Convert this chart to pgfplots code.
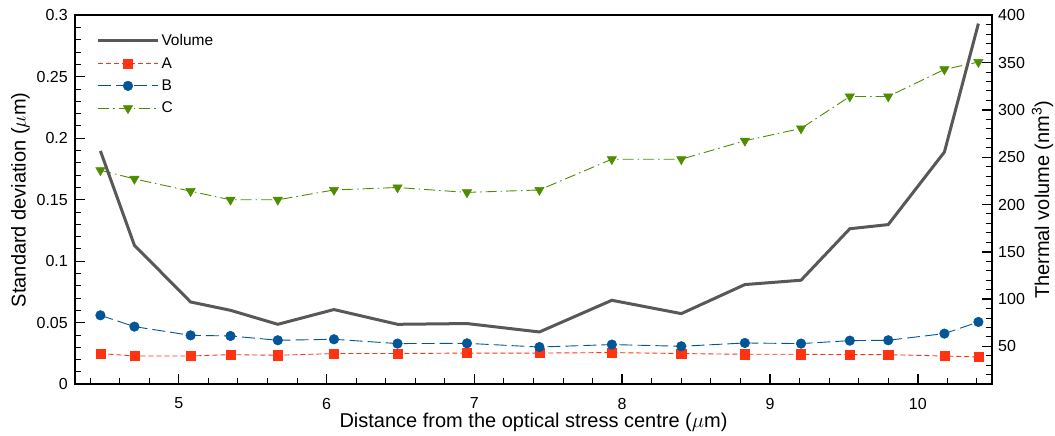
\documentclass[border=0pt]{standalone}
\usepackage{fontspec}
\setmainfont{Liberation Sans}
\usepackage{pgfplots}
\pgfplotsset{compat=1.18}
\definecolor{volgray}{RGB}{88,88,88}
\definecolor{cA}{RGB}{255,51,17}
\definecolor{cB}{RGB}{0,86,150}
\definecolor{cC}{RGB}{78,140,0}
\pgfplotsset{
  styleV/.style={volgray, line width=3pt, no markers},
  styleA/.style={cA, line width=0.9pt, dash pattern=on 5pt off 3pt, mark=square*, mark size=4.6pt, mark options={solid, fill=cA, draw=cA, line width=0.5pt}},
  styleB/.style={cB, line width=0.9pt, dash pattern=on 13pt off 5pt, mark=*, mark size=4.8pt, mark options={solid, fill=cB, draw=cB, line width=0.5pt}},
  styleC/.style={cC, line width=0.9pt, dash pattern=on 11pt off 4pt on 1.5pt off 4pt, mark=triangle*, mark size=5.4pt, mark options={solid, rotate=180, fill=cC, draw=cC, line width=0.5pt}},
  commonax/.style={
    at={(0,0)}, anchor=south west,
    scale only axis, width=916.4pt, height=369pt,
    xmin=4.3, xmax=10.5,
    tick align=inside,
    major tick length=10pt, minor tick length=6pt,
    every tick/.style={black, line width=1.4pt},
    every minor tick/.style={black, line width=1pt},
    axis line style={line width=2pt},
    tick label style={font=\fontsize{16}{19}\selectfont},
    label style={font=\fontsize{20}{24}\selectfont},
    /pgf/number format/assume math mode=true,
  },
}
\begin{document}
\begin{tikzpicture}
\path[use as bounding box] (-75.3pt,-51.7pt) rectangle (979.7pt,384.3pt);
\begin{axis}[
  commonax,
  ymin=0, ymax=0.3,
  xtick={5,6,7,8,9,10},
  minor xtick={4.4,4.6,4.8,5.2,5.4,5.6,5.8,6.2,6.4,6.6,6.8,7.2,7.4,7.6,7.8,8.2,8.4,8.6,8.8,9.2,9.4,9.6,9.8,10.2,10.4},
  xtick pos=bottom,
  ytick={0,0.05,0.1,0.15,0.2,0.25,0.3},
  yticklabels={0,0.05,0.1,0.15,0.2,0.25,0.3},
  minor ytick={0.01,0.02,0.03,0.04,0.06,0.07,0.08,0.09,0.11,0.12,0.13,0.14,0.16,0.17,0.18,0.19,0.21,0.22,0.23,0.24,0.26,0.27,0.28,0.29},
  ytick pos=left,
  xticklabel style={yshift=-10pt},
  yticklabel style={xshift=-4pt},
  xlabel={Distance from the optical stress centre ($\mu$m)},
  ylabel={Standard deviation ($\mu$m)},
  xlabel style={yshift=3pt},
  ylabel style={yshift=0pt},
]
\addplot[styleA] coordinates {
(4.47,0.0250) (4.70,0.0230) (5.08,0.0230) (5.35,0.0241) (5.67,0.0236)
(6.05,0.0250) (6.48,0.0250) (6.95,0.0254) (7.44,0.0254) (7.93,0.0258)
(8.40,0.0250) (8.83,0.0244) (9.21,0.0244) (9.54,0.0241) (9.80,0.0241)
(10.18,0.0230) (10.41,0.0222)};
\addplot[styleB] coordinates {
(4.47,0.0561) (4.70,0.0469) (5.08,0.0398) (5.35,0.0393) (5.67,0.0358)
(6.05,0.0366) (6.48,0.0331) (6.95,0.0333) (7.44,0.0303) (7.93,0.0323)
(8.40,0.0309) (8.83,0.0336) (9.21,0.0331) (9.54,0.0355) (9.80,0.0358)
(10.18,0.0412) (10.41,0.0507)};
\addplot[styleC] coordinates {
(4.47,0.174) (4.70,0.167) (5.08,0.157) (5.35,0.150) (5.67,0.150)
(6.05,0.158) (6.48,0.160) (6.95,0.156) (7.44,0.158) (7.93,0.183)
(8.40,0.183) (8.83,0.198) (9.21,0.208) (9.54,0.234) (9.80,0.234)
(10.18,0.256) (10.41,0.262)};
\end{axis}
\begin{axis}[
  commonax,
  ymin=10, ymax=400,
  hide x axis,
  axis y line*=right,
  ytick={50,100,150,200,250,300,350,400},
  minor ytick={10,20,...,400},
  ytick pos=right,
  yticklabel style={xshift=3pt},
  ylabel={Thermal volume (nm\textsuperscript{3})},
  ylabel style={yshift=0pt},
  legend cell align=left,
  legend style={draw=none, fill=none, at={(0,1)}, anchor=north west, xshift=21pt, yshift=-17pt,
    font=\fontsize{15.5}{18}\selectfont, row sep=6.2pt, inner sep=0pt,
    /tikz/every even column/.append style={column sep=17pt}},
  legend image code/.code={\draw[mark repeat=2,mark phase=2] plot coordinates {(0pt,0pt) (30pt,0pt) (60pt,0pt)};},
]
\addplot[styleV] coordinates {
(4.47,256.6) (4.70,156.9) (5.08,97.0) (5.35,88.2) (5.67,73.4)
(6.05,89.0) (6.48,73.4) (6.95,74.2) (7.44,65.3) (7.93,98.8)
(8.40,84.7) (8.83,115.4) (9.21,120.0) (9.54,174.4) (9.80,178.8)
(10.18,255.5) (10.41,391.2)};
\addlegendentry{Volume}
\addlegendimage{styleA}
\addlegendentry{A}
\addlegendimage{styleB}
\addlegendentry{B}
\addlegendimage{styleC}
\addlegendentry{C}
\end{axis}
\end{tikzpicture}
\end{document}
